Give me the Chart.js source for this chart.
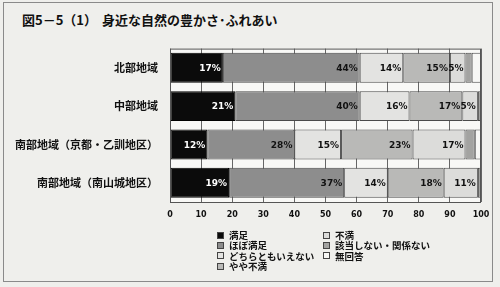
<!DOCTYPE html>
<html>
<head>
<meta charset="utf-8">
<script src="https://cdn.jsdelivr.net/npm/chart.js@4"></script>
<style>
  body { margin: 0; width: 500px; height: 287px; background: #efefec; overflow: hidden;
         font-family: "Noto Sans CJK JP", sans-serif; position: relative; }
  #frame { position: absolute; left: 3px; top: 2px; width: 488px; height: 278px; border: 1px solid #8a8a8a; }
  #title { position: absolute; left: 22px; top: 10px; font-size: 13px; font-weight: bold; color: #111; white-space: nowrap; }
  #title span.b { margin-left: 5px; }
  #wrap { position: absolute; left: 0; top: 30px; width: 500px; height: 200px; }
  #legend { position: absolute; left: 217px; top: 230px; display: grid; grid-auto-flow: column;
            grid-template-rows: repeat(4, 10.3px); grid-template-columns: 106px 160px;
            font-size: 9.5px; font-weight: bold; color: #111; }
  #legend div { display: flex; align-items: center; white-space: nowrap; line-height: 10.3px; height: 10.3px; }
  #legend i { display: inline-block; width: 7px; height: 7px; border: 1px solid #444; margin-right: 5px; box-sizing: border-box; flex: none; }
</style>
</head>
<body>
<div id="frame"></div>
<div id="title"><span>図5－5（1）</span><span class="b">身近な自然の豊かさ･ふれあい</span></div>
<div id="wrap"><canvas id="chart"></canvas></div>
<div id="legend"></div>
<script>
var regions = ['北部地域', '中部地域', '南部地域（京都・乙訓地区）', '南部地域（南山城地区）'];
var answers = ['満足', 'ほぼ満足', 'どちらともいえない', 'やや不満', '不満', '該当しない・関係ない', '無回答'];

var manzoku     = [17, 21, 12, 19];
var hobomanzoku = [44, 40, 28, 37];
var dochiramo   = [14, 16, 15, 14];
var yayafuman   = [15, 17, 23, 18];
var fuman       = [5, 5, 17, 11];
var gaitounashi = [2, 1, 3, 1];
var mukaitou    = [3, 0, 2, 0];

var xTicks = [0, 10, 20, 30, 40, 50, 60, 70, 80, 90, 100];

var colors = ['#0b0b0b', '#8d8d8d', '#e3e3e1', '#b9b9b7', '#dcdcda', '#a3a3a1', '#f7f7f5'];
var series = [manzoku, hobomanzoku, dochiramo, yayafuman, fuman, gaitounashi, mukaitou];

var datasets = series.map(function(vals, i) {
    return {
        label: answers[i],
        data: vals,
        backgroundColor: colors[i],
        borderColor: i == 0 ? '#000' : '#4a4a4a',
        borderWidth: 1,
        borderSkipped: false,
        barPercentage: 0.78,
        categoryPercentage: 1.0
    };
});

// plot area fill + frame
var plotBg = {
    id: 'plotBg',
    beforeDraw: function(chart) {
        var a = chart.chartArea, ctx = chart.ctx;
        ctx.save();
        ctx.fillStyle = '#f8f8f6';
        ctx.fillRect(a.left, a.top, a.right - a.left, a.bottom - a.top);
        ctx.restore();
    },
    afterDraw: function(chart) {
        var a = chart.chartArea, ctx = chart.ctx;
        ctx.save();
        ctx.strokeStyle = '#555';
        ctx.lineWidth = 1;
        ctx.strokeRect(a.left + 0.5, a.top + 0.5, a.right - a.left - 1, a.bottom - a.top);
        ctx.restore();
    }
};

// percent labels at the inner end of each segment
var pctLabels = {
    id: 'pctLabels',
    afterDatasetsDraw: function(chart) {
        var ctx = chart.ctx;
        ctx.save();
        ctx.font = 'bold 9px "DejaVu Sans", sans-serif';
        ctx.textAlign = 'right';
        ctx.textBaseline = 'middle';
        chart.data.datasets.forEach(function(ds, di) {
            chart.getDatasetMeta(di).data.forEach(function(bar, j) {
                var v = ds.data[j];
                if (v < 5) return;
                ctx.fillStyle = di == 0 ? '#fff' : '#111';
                ctx.fillText(v + '%', bar.x - 2, bar.y + 1);
            });
        });
        ctx.restore();
    }
};

var ctx = document.getElementById('chart');
var chart = new Chart(ctx, {
    type: 'bar',
    data: { labels: regions, datasets: datasets },
    plugins: [plotBg, pctLabels],
    options: {
        indexAxis: 'y',
        responsive: true,
        maintainAspectRatio: false,
        animation: false,
        layout: { padding: { top: 11, right: 19, left: 0, bottom: 0 } },
        plugins: { legend: { display: false }, tooltip: { enabled: false } },
        scales: {
            x: {
                stacked: true,
                min: 0, max: 100,
                afterBuildTicks: function(s) { s.ticks = xTicks.map(function(v) { return { value: v }; }); },
                afterFit: function(s) { s.height = 28; },
                grid: { color: '#666', drawTicks: false },
                border: { display: false },
                ticks: { color: '#111', padding: 8, font: { size: 8, weight: 'bold', family: '"DejaVu Sans", sans-serif' } }
            },
            y: {
                stacked: true,
                afterFit: function(s) { s.width = 170; },
                grid: { display: false, drawTicks: false },
                border: { display: false },
                ticks: { color: '#111', padding: 12, font: { size: 11, weight: 'bold', family: '"Noto Sans CJK JP", sans-serif' } }
            }
        }
    }
});

// legend in two columns, filled top to bottom
var legend = document.getElementById('legend');
chart.data.datasets.forEach(function(ds) {
    var item = document.createElement('div');
    var box = document.createElement('i');
    box.style.background = ds.backgroundColor;
    item.appendChild(box);
    item.appendChild(document.createTextNode(ds.label));
    legend.appendChild(item);
});
</script>
</body>
</html>
